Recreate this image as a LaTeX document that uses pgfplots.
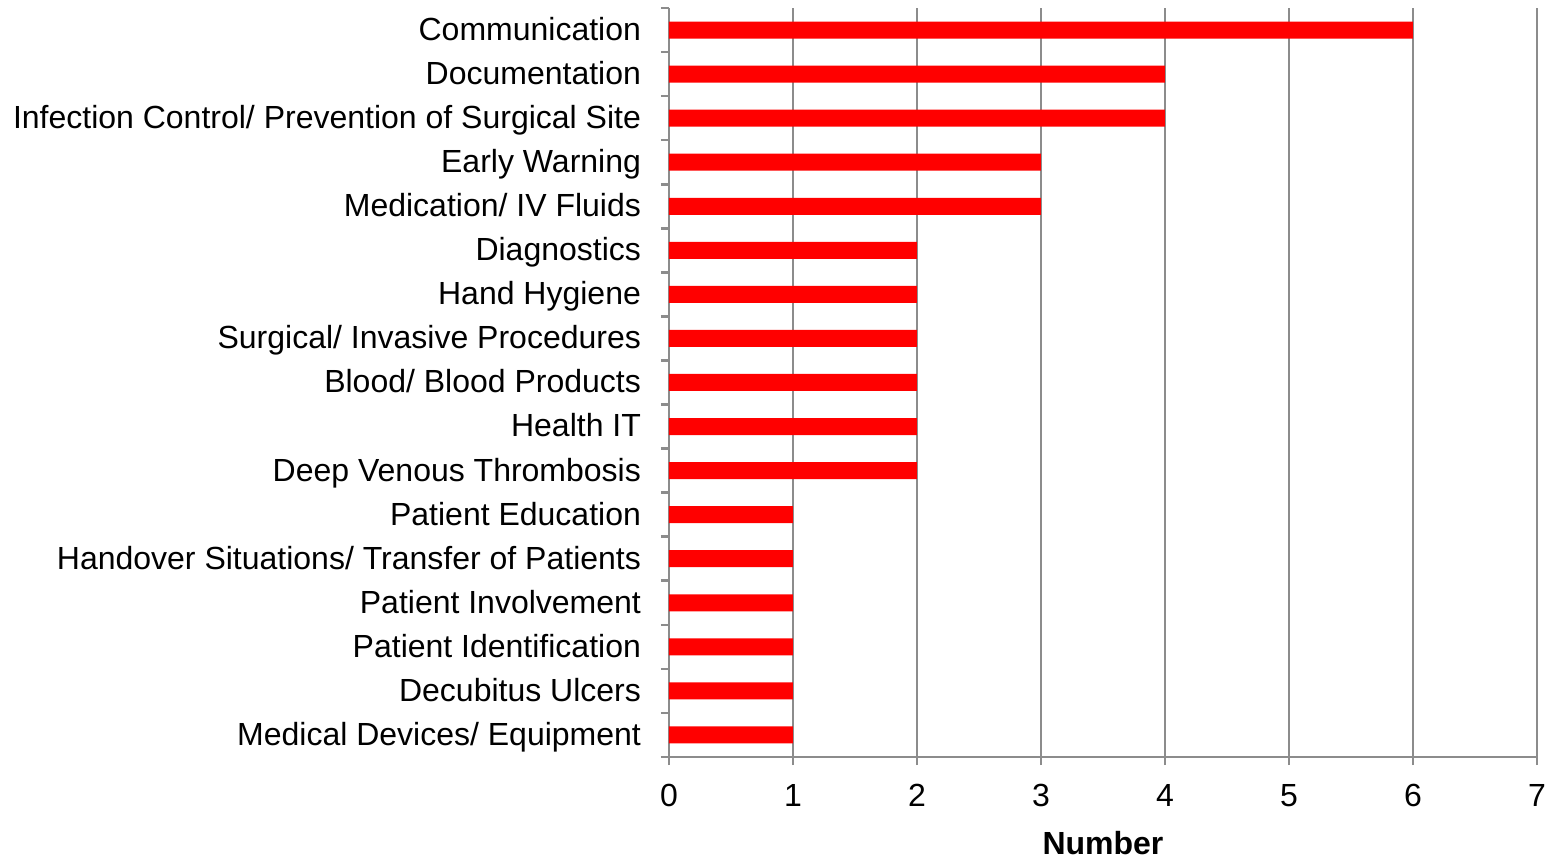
\documentclass[border=0pt]{standalone}
\usepackage{pgfplots}
\pgfplotsset{compat=1.18}
\usepackage{pgfplotstable}
\usepackage{fontspec}
\setmainfont{Liberation Sans}
\definecolor{axgray}{HTML}{8C8C8C}
\pgfplotstableread{
y val
16 6
15 4
14 4
13 3
12 3
11 2
10 2
9 2
8 2
7 2
6 2
5 1
4 1
3 1
2 1
1 1
0 1
}\datatab
\begin{document}
\begin{tikzpicture}
\begin{axis}[
  scale only axis,
  width=434pt, height=374.5pt,
  xmin=0, xmax=7, ymin=-0.5, ymax=16.5,
  axis x line*=bottom, axis y line*=left,
  axis line style={axgray, line width=1.3pt, -},
  xtick={0,...,7},
  xmajorgrids, grid style={axgray, line width=1.3pt},
  xtick align=outside, ytick align=outside,
  major tick length=4pt,
  minor tick length=4pt,
  every major x tick/.append style={axgray, line width=1.3pt},
  every major y tick/.append style={draw=none},
  every minor y tick/.append style={axgray, line width=1.3pt},
  ytick={0,...,16},
  minor ytick={-0.5,0.5,...,16.5},
  yticklabels={Medical Devices/ Equipment, Decubitus Ulcers, Patient Identification, Patient Involvement, Handover Situations/ Transfer of Patients, Patient Education, Deep Venous Thrombosis, Health IT, Blood/ Blood Products, Surgical/ Invasive Procedures, Hand Hygiene, Diagnostics, Medication/ IV Fluids, Early Warning, Infection Control/ Prevention of Surgical Site, Documentation, Communication},
  ticklabel style={font=\fontsize{16}{19}\selectfont, text=black},
  yticklabel style={anchor=base east, xshift=-6.5pt, yshift=-0.52em},
  xticklabel style={yshift=-6pt},
  /pgf/number format/assume math mode=true,
  xlabel={\textbf{Number}},
  xlabel style={font=\fontsize{16}{19}\selectfont, yshift=-5.5pt},
  xbar, bar width=8.5pt,
  clip=false,
]
\addplot[fill=red, draw=none] table[x=val, y=y] {\datatab};
\path (rel axis cs:0,0) coordinate (O) (rel axis cs:1,1) coordinate (T);
\end{axis}
\useasboundingbox ([xshift=-334.5pt,yshift=-51pt]O) rectangle ([xshift=8pt,yshift=4pt]T);
\end{tikzpicture}
\end{document}
